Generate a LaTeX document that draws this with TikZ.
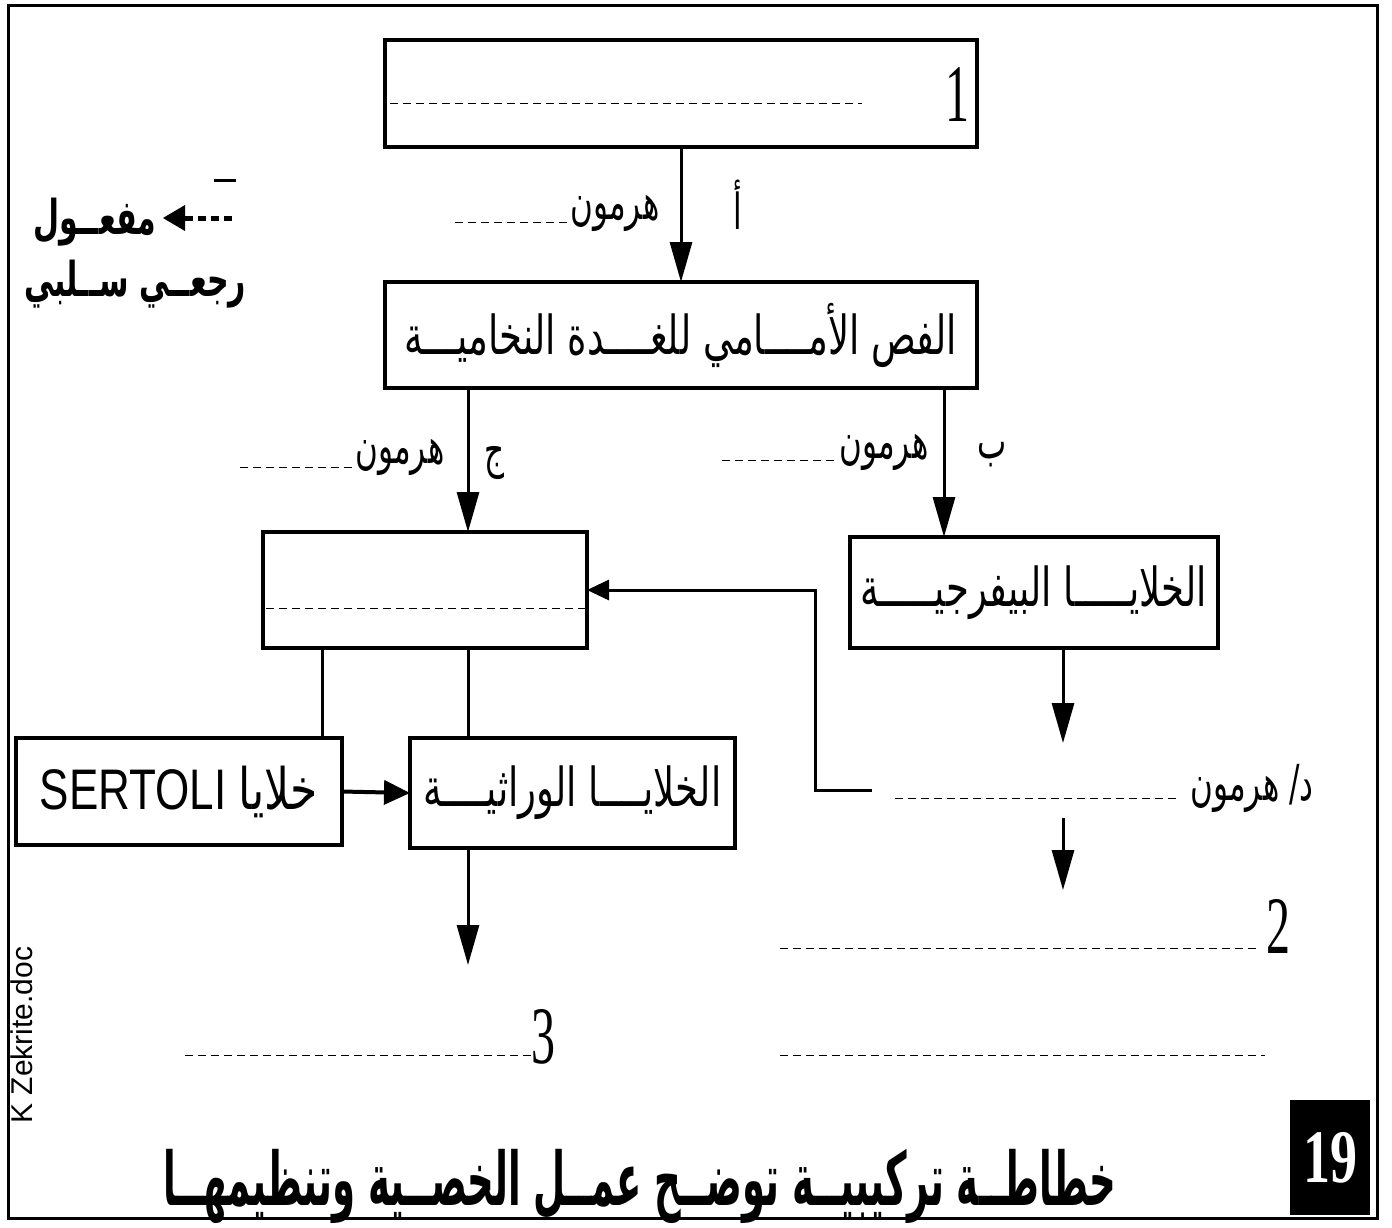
\documentclass[tikz,border=0pt]{standalone}
\usepackage{fontspec}
\setmainfont{Liberation Serif}
\setsansfont{Liberation Sans}
\newfontfamily\arabicfont[Script=Arabic]{DejaVu Sans}
\TeXXeTstate=1
\usetikzlibrary{arrows.meta}
\tikzset{
  bx/.style={draw, line width=4pt, inner sep=0pt, outer sep=0pt},
  arr/.style={line width=3pt, -{Triangle[length=40pt,width=22pt]}},
  plainline/.style={line width=3pt},
  fillin/.style={line width=1pt, dash pattern=on 8pt off 5pt},
  ar/.style={font=\arabicfont\fontsize{31}{34}\selectfont, inner sep=0pt},
  arbig/.style={font=\arabicfont\fontsize{37}{40}\selectfont, inner sep=0pt},
  num/.style={font=\fontsize{48}{50}\selectfont, inner sep=0pt},
}
\begin{document}
\begin{tikzpicture}[x=1pt,y=-1pt]
\useasboundingbox (0,0) rectangle (1392,1227);
% outer frame
\draw[line width=3pt] (8,5) rectangle (1377,1218);

% boxes
\node[bx, minimum width=592pt, minimum height=107pt] (b1) at (681,93.5) {};
\node[bx, minimum width=592pt, minimum height=106pt] (b2) at (681,335) {};
\node[arbig] at (b2.center) {\scalebox{1}[1.45]{\beginR الفص الأمــــامي للغــــدة النخاميـــة\endR}};
\node[bx, minimum width=324pt, minimum height=116pt] (b3) at (425,590) {};
\node[bx, minimum width=368pt, minimum height=111pt] (b4) at (1034,592.5) {};
\node[arbig] at (b4.center) {\scalebox{1}[1.45]{\beginR الخلايـــــا البيفرجيـــــة\endR}};
\node[bx, minimum width=326pt, minimum height=107pt] (bs) at (179,791.5) {};
\node[inner sep=0pt] at (bs.center) {\scalebox{1}[1.3]{\sffamily\fontsize{44}{48}\selectfont SERTOLI {\arabicfont\beginR خلايا\endR}}};
\node[bx, minimum width=325pt, minimum height=110pt] (bg) at (572.5,793) {};
\node[arbig] at (bg.center) {\scalebox{1}[1.45]{\beginR الخلايــــا الوراثيــــة\endR}};

% dashed fill-in lines inside boxes
\coordinate (d1a) at (390,103); \coordinate (d1b) at (862,103);
\draw[fillin] (d1a) -- (d1b);
\node[num] (n1) at (957,95) {\scalebox{1}[1.7]{1}};
\coordinate (d3a) at (266,608); \coordinate (d3b) at (585,608);
\draw[fillin] (d3a) -- (d3b);

% arrow 1 -> 2
\draw[arr] (b1.south) -- (b2.north);
\node[ar] (lA) at (738,205) {\scalebox{1}[1.6]{\beginR أ\endR}};
\node[ar] (hA) at (615,213) {\scalebox{1}[1.6]{\beginR هرمون\endR}};
\coordinate (dAa) at (455,222); \coordinate (dAb) at (568,222);
\draw[fillin] (dAa) -- (dAb);

% arrows from 2
\coordinate (xc) at (468,0);
\coordinate (xb) at (944,0);
\draw[arr] (b2.south -| xc) -- (b3.north -| xc);
\draw[arr] (b2.south -| xb) -- (b4.north -| xb);
\node[ar] (lC) at (494,463) {\scalebox{1}[1.6]{\beginR ج\endR}};
\node[ar] (hC) at (400,457) {\scalebox{1}[1.6]{\beginR هرمون\endR}};
\coordinate (dCa) at (240,467); \coordinate (dCb) at (352,467);
\draw[fillin] (dCa) -- (dCb);
\node[ar] (lB) at (992,455) {\scalebox{1}[1.6]{\beginR ب\endR}};
\node[ar] (hB) at (884,452) {\scalebox{1}[1.6]{\beginR هرمون\endR}};
\coordinate (dBa) at (722,460); \coordinate (dBb) at (834,460);
\draw[fillin] (dBa) -- (dBb);

% arrows from Leydig
\coordinate (xl) at (1063,0);
\coordinate (l1) at (1063,743);
\draw[arr] (b4.south -| xl) -- (l1);
\coordinate (l2a) at (1063,818);
\coordinate (l2b) at (1063,890);
\draw[arr] (l2a) -- (l2b);
\node[ar] (hD) at (1252,788) {\scalebox{1}[1.6]{\beginR د/ هرمون\endR}};
\coordinate (dDa) at (895,798); \coordinate (dDb) at (1178,798);
\draw[fillin] (dDa) -- (dDb);

% feedback
\coordinate (fb0) at (872,790);
\coordinate (fb1) at (815,790);
\draw[line width=3pt, -{Triangle[length=22pt,width=20pt]}] (fb0) -- (fb1) |- (b3.east);

% box3 to lower boxes
\coordinate (xs) at (322,0);
\draw[plainline] (b3.south -| xs) -- (bs.north -| xs);
\draw[plainline] (b3.south -| xc) -- (bg.north -| xc);
\draw[line width=4pt, -{Triangle[length=26pt,width=24pt]}] (bs.east) -- (bg.west);

% germ cells arrow
\coordinate (g1) at (468,965);
\draw[arr] (bg.south -| xc) -- (g1);

% 2 and 3 fill lines
\node[num] (n2) at (1278,926) {\scalebox{1}[1.7]{2}};
\coordinate (d2a) at (780,948); \coordinate (d2b) at (1260,948);
\draw[fillin] (d2a) -- (d2b);
\coordinate (d2c) at (780,1055); \coordinate (d2d) at (1265,1055);
\draw[fillin] (d2c) -- (d2d);
\node[num] (n3) at (543,1037) {\scalebox{1}[1.7]{3}};
\coordinate (d3c) at (185,1055); \coordinate (d3d) at (533,1055);
\draw[fillin] (d3c) -- (d3d);

% legend
\node[inner sep=0pt] (lg1) at (95,222) {\scalebox{1}[1.6]{\arabicfont\bfseries\fontsize{30}{34}\selectfont\beginR مفعــول\endR}};
\node[inner sep=0pt] (lg2) at (135,284) {\scalebox{1}[1.6]{\arabicfont\bfseries\fontsize{30}{34}\selectfont\beginR رجعــي ســلبي\endR}};
\coordinate (la) at (232,218); \coordinate (lb) at (163,218);
\draw[line width=5pt, dash pattern=on 8pt off 5pt, -{Triangle[length=22pt,width=26pt,line width=0pt]}] (la) -- (lb);
\coordinate (ma) at (214,180); \coordinate (mb) at (236,180);
\draw[line width=3pt] (ma) -- (mb);

% side label
\node[rotate=90, inner sep=0pt, font=\sffamily\fontsize{30}{34}\selectfont] (kz) at (22,1035) {K Zekrite.doc};

% title
\node[inner sep=0pt] (title) at (640,1186) {\scalebox{1}[2.0]{\arabicfont\bfseries\fontsize{37}{42}\selectfont\beginR خطاطــة تركيبيــة توضــح عمــل الخصــية وتنظيمهــا\endR}};

% 19
\node[fill=black, minimum width=80pt, minimum height=115pt, inner sep=0pt] (nb) at (1330,1157.5) {};
\node[text=white, inner sep=0pt, font=\bfseries\fontsize{54}{56}\selectfont] (n19) at (nb.center) {\scalebox{1}[1.4]{19}};
\end{tikzpicture}
\end{document}
